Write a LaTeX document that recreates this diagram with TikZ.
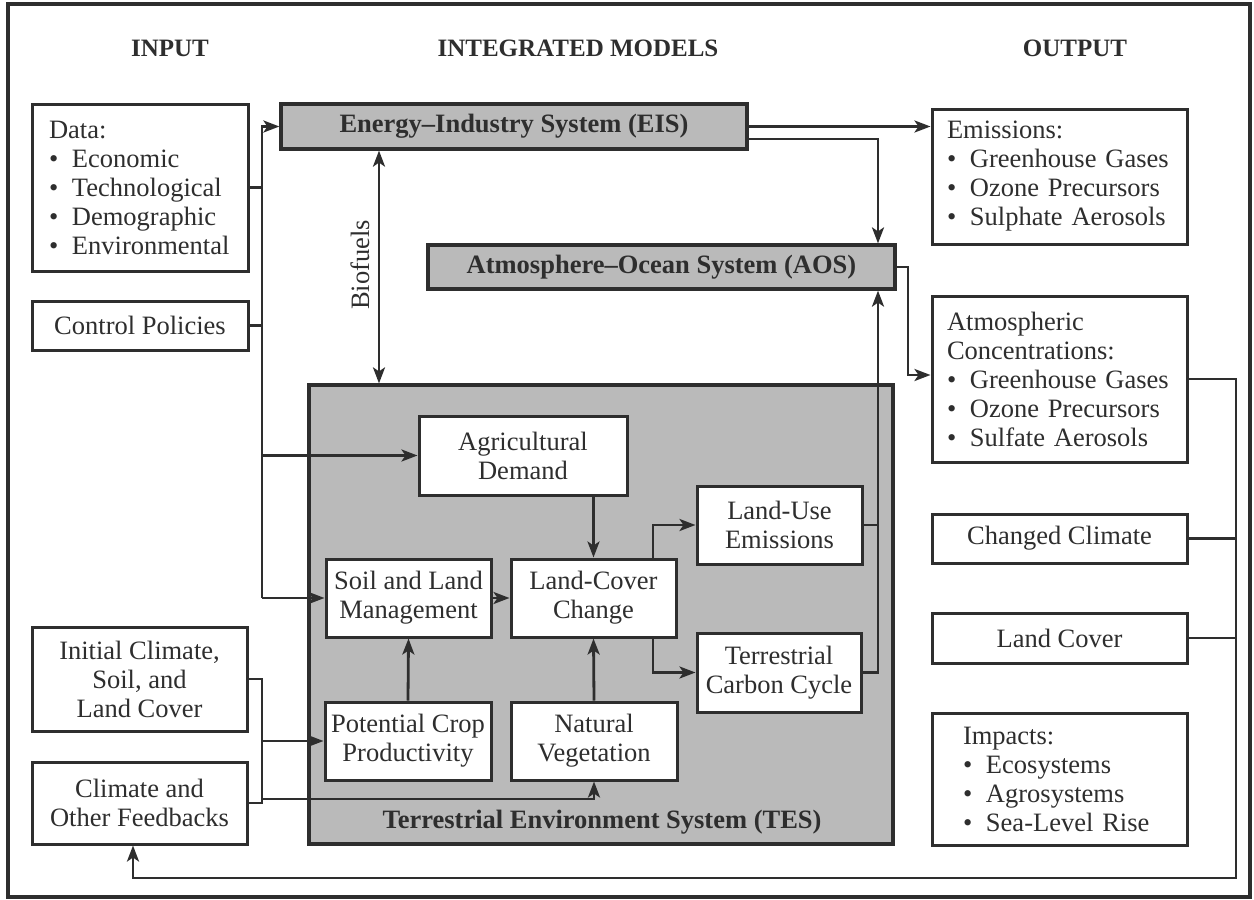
\documentclass[tikz,border=0pt]{standalone}
\usepackage{fontspec}
\setmainfont{Liberation Serif}
\usetikzlibrary{arrows.meta,calc}
\definecolor{ink}{HTML}{2E2E2E}
\definecolor{shade}{HTML}{BABABA}
\newcommand{\bulit}{\makebox[23pt][l]{•}}
\begin{document}
\begin{tikzpicture}[x=1pt,y=-1pt,
  every node/.style={font=\fontsize{26.5}{29}\selectfont, text=ink},
  box/.style={draw=ink, line width=3pt, fill=white, inner sep=0pt, align=center},
  lbox/.style={box, align=left},
  sysbox/.style={draw=ink, line width=3.2pt, fill=shade, inner sep=0pt, font=\fontsize{26.5}{29}\selectfont\bfseries},
  conn/.style={draw=ink, line width=2.8pt},
  arr/.style={conn, -{Stealth[length=16pt,width=12pt,inset=4pt]}},
  dbl/.style={conn, {Stealth[length=16pt,width=12pt,inset=4pt]}-{Stealth[length=16pt,width=12pt,inset=4pt]}},
  head/.style={font=\fontsize{25}{28}\selectfont\bfseries}
]
\useasboundingbox (0,0) rectangle (1254,900);
\draw[ink, line width=3.5pt] (8,4) rectangle (1250,897);

% headings
\node[head] (hin) at (170,48) {INPUT};
\node[head] (hmod) at (578,48) {INTEGRATED MODELS};
\node[head] (hout) at (1075,48) {OUTPUT};

% input boxes
\node[lbox, minimum width=216pt, minimum height=167pt, text width=182pt] (data) at (140,187.5)
  {Data:\\ \bulit Economic\\ \bulit Technological\\ \bulit Demographic\\ \bulit Environmental};
\node[box, minimum width=216pt, minimum height=49pt] (ctrl) at (140,325.5) {Control Policies};
\node[box, minimum width=215pt, minimum height=104pt] (init) at (139.5,679)
  {Initial Climate,\\ Soil, and\\ Land Cover};
\node[box, minimum width=215pt, minimum height=82pt] (fb) at (139.5,803)
  {Climate and\\ Other Feedbacks};

% system boxes
\node[sysbox, minimum width=466pt, minimum height=45pt] (eis) at (514,126.5) {Energy–Industry System (EIS)};
\node[sysbox, minimum width=467pt, minimum height=44pt] (aos) at (661.5,267) {Atmosphere–Ocean System (AOS)};
\node[sysbox, minimum width=584pt, minimum height=459pt] (tes) at (601,614.5) {};
\node[font=\fontsize{26.5}{29}\selectfont\bfseries] (teslabel) at (602,822) {Terrestrial Environment System (TES)};

% TES inner boxes
\node[box, minimum width=208pt, minimum height=79pt] (agri) at (523,455.5) {Agricultural\\ Demand};
\node[box, minimum width=165pt, minimum height=78pt] (soil) at (408.5,598) {Soil and Land\\ Management};
\node[box, minimum width=165pt, minimum height=78pt] (lcc) at (593.5,598) {Land-Cover\\ Change};
\node[box, minimum width=165pt, minimum height=78pt] (lue) at (779.5,525) {Land-Use\\ Emissions};
\node[box, minimum width=164pt, minimum height=79pt] (tcc) at (779,672.5) {Terrestrial\\ Carbon Cycle};
\node[box, minimum width=166pt, minimum height=78pt] (pcp) at (408,741) {Potential Crop\\ Productivity};
\node[box, minimum width=166pt, minimum height=78pt] (nv) at (594,741) {Natural\\ Vegetation};

% output boxes
\node[lbox, minimum width=255pt, minimum height=135pt, text width=225pt] (emis) at (1059.5,176.5)
  {Emissions:\\ \bulit Greenhouse Gases\\ \bulit Ozone Precursors\\ \bulit Sulphate Aerosols};
\node[lbox, minimum width=255pt, minimum height=166pt, text width=225pt] (atm) at (1059.5,379)
  {Atmospheric\\ Concentrations:\\ \bulit Greenhouse Gases\\ \bulit Ozone Precursors\\ \bulit Sulfate Aerosols};
\node[box, minimum width=255pt, minimum height=49pt] (cc) at (1059.5,538.5) {Changed Climate};
\node[box, minimum width=255pt, minimum height=50pt] (lc) at (1059.5,638) {Land Cover};
\node[lbox, minimum width=255pt, minimum height=132pt, text width=193pt] (imp) at (1059.5,779)
  {Impacts:\\ \bulit Ecosystems\\ \bulit Agrosystems\\ \bulit Sea-Level Rise};

% biofuels
\coordinate (bioX) at (379,0);
\draw[dbl] (eis.south -| bioX) -- (tes.north -| bioX);
\node[rotate=90] (bio) at (360,265) {Biofuels};

% left input bus
\coordinate (jB) at (262,598);
\draw[conn] (data.east) -- (data.east -| jB);
\draw[conn] (ctrl.east) -- (ctrl.east -| jB);
\draw[arr] (jB) |- (eis.west);
\draw[arr] (jB) -- (soil.west);
\draw[arr] (agri.west -| jB) -- (agri.west);

% EIS outputs
\coordinate (cR) at (878,139);
\draw[arr] (eis.east) -- (eis.east -| emis.west);
\draw[arr] (eis.east |- cR) -| (aos.north -| cR);

% AOS to atmospheric concentrations
\coordinate (c2) at (908,375);
\draw[arr] (aos.east) -| (c2) -- (c2 -| atm.west);

% TES internal
\draw[arr] (agri.south -| lcc.north) -- (lcc.north);
\draw[arr] (soil.east) -- (lcc.west);
\draw[arr] (pcp.north) -- (soil.south);
\draw[arr] (nv.north) -- (lcc.south);
\coordinate (c3) at (653,0);
\draw[arr] (lcc.north -| c3) |- (lue.west);
\draw[arr] (lcc.south -| c3) |- (tcc.west);
\draw[conn] (lue.east) -- (lue.east -| cR);
\draw[arr] (tcc.east) -| (aos.south -| cR);

% bottom-left feeds
\coordinate (c5) at (262,0);
\draw[conn] (init.east) -- (init.east -| c5) -- (fb.east -| c5) -- (fb.east);
\draw[arr] (pcp.west -| c5) -- (pcp.west);
\coordinate (c6) at (262,799);
\draw[arr] (c6) -| (nv.south);

% right output bus and feedback
\coordinate (c7) at (1236,878);
\coordinate (c8) at (133,878);
\draw[conn] (cc.east) -- (cc.east -| c7);
\draw[conn] (lc.east) -- (lc.east -| c7);
\draw[arr] (atm.east) -- (atm.east -| c7) -- (c7) -- (c8) -- (c8 |- fb.south);
\end{tikzpicture}
\end{document}
